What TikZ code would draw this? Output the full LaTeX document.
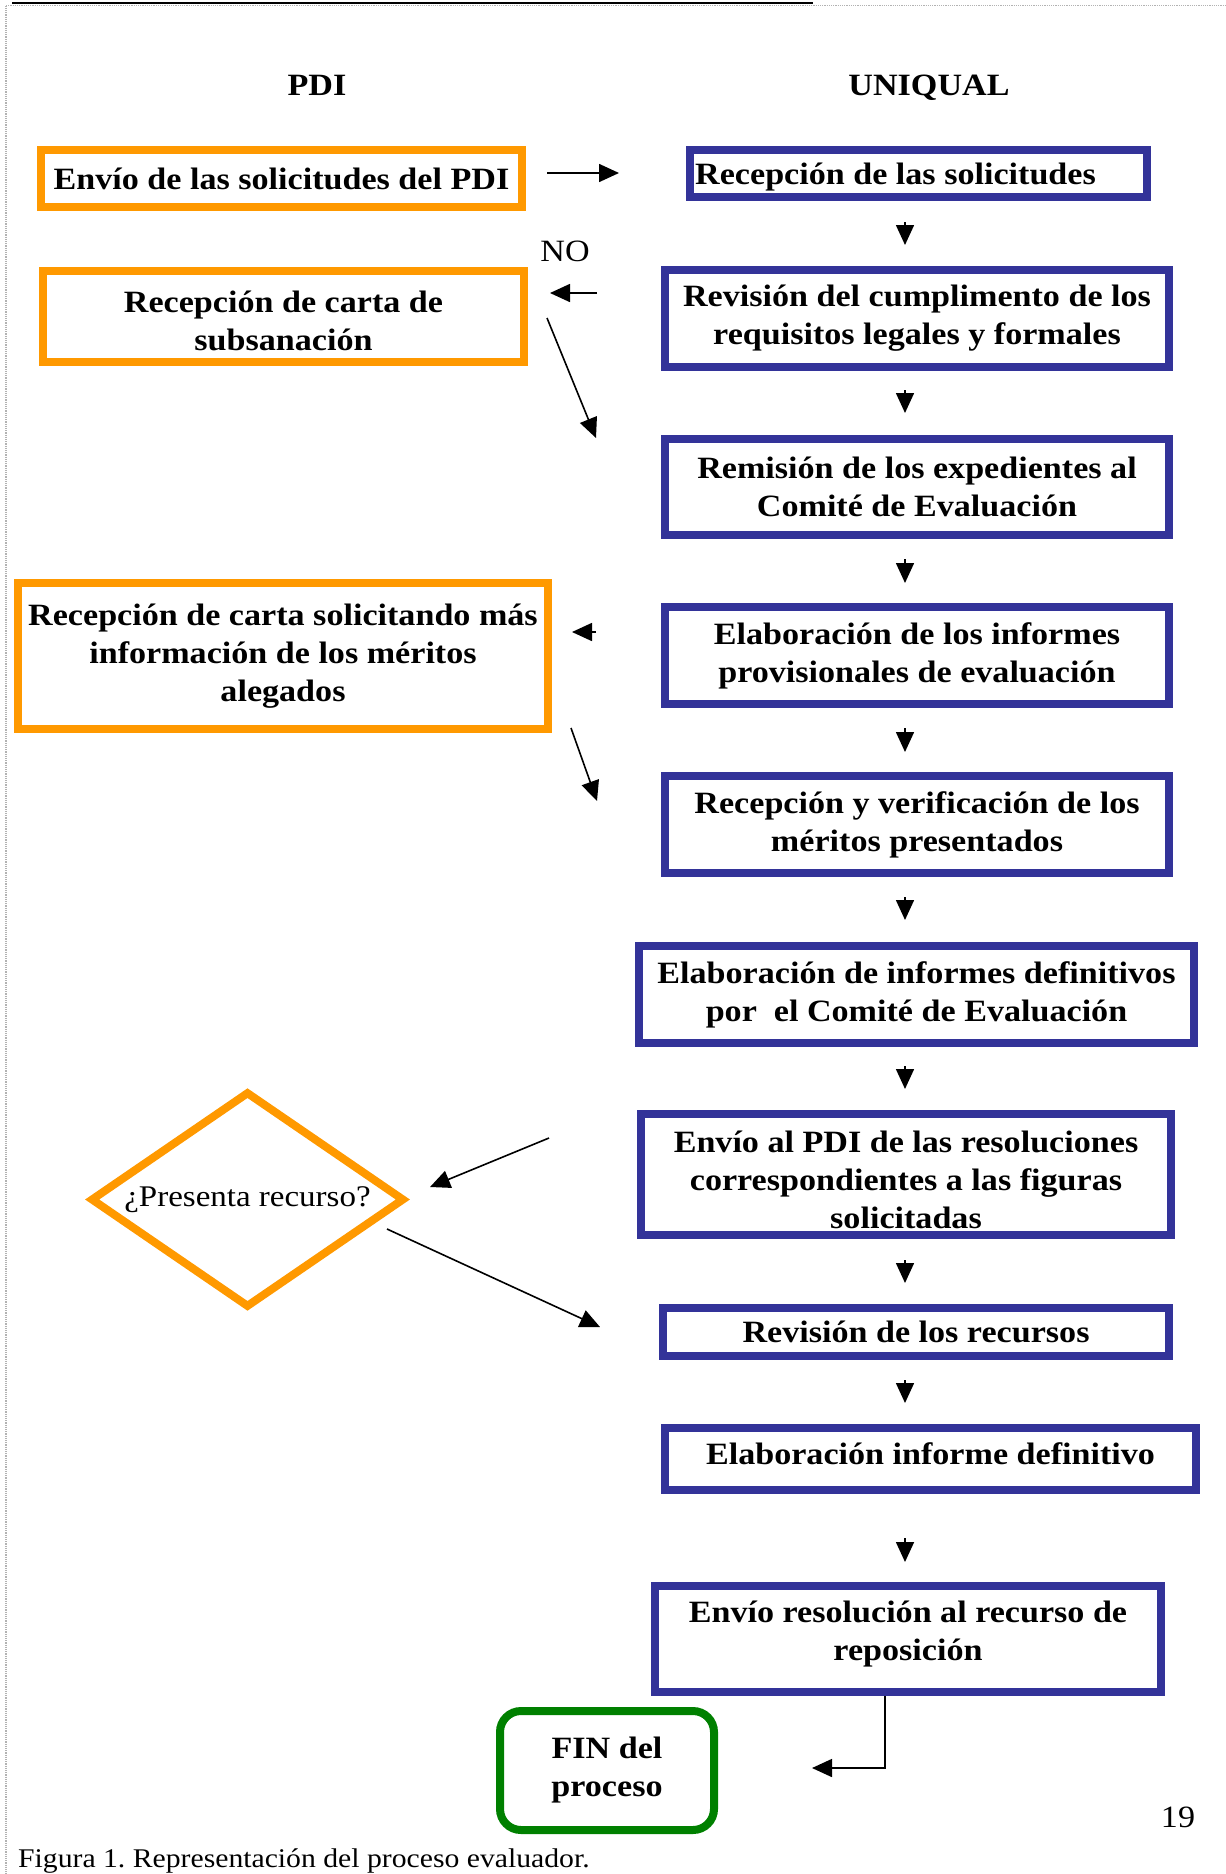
\documentclass[tikz,border=0pt]{standalone}
\usepackage{fontspec}
\setmainfont{Liberation Serif}[FakeStretch=1.1]
\usetikzlibrary{arrows.meta,shapes.geometric}
\definecolor{pdiorange}{RGB}{255,153,0}
\definecolor{uniblue}{RGB}{51,51,153}
\definecolor{fingreen}{RGB}{0,128,0}
\newcommand\bxfont{\fontsize{31pt}{38pt}\selectfont}
\newcommand\capfont{\fontsize{27pt}{32pt}\selectfont}
\frenchspacing
\tikzset{
  bx/.style={draw, line width=8pt, rectangle, inner sep=0pt, align=center, font=\bfseries\bxfont, text=black},
  ub/.style={bx, draw=uniblue},
  ob/.style={bx, draw=pdiorange},
  txt/.style={inner sep=0pt, align=center, font=\bfseries\bxfont},
  arr/.style={-{Triangle[length=20pt,width=18pt]}, line width=1.6pt},
  plain/.style={inner sep=0pt, font=\bxfont},
  hdr/.style={inner sep=0pt, font=\bfseries\bxfont, anchor=base},
}
\begin{document}
\begin{tikzpicture}[x=1pt,y=-1pt]
\useasboundingbox (0,0) rectangle (1226,1874);
% page decorations
\draw[line width=2.5pt] (12,3) -- (813,3);
\draw[gray!60, line width=1.2pt, densely dotted] (6,5.5) -- (1226,5.5);
\draw[gray!60, line width=1.2pt, densely dotted] (6,5.5) -- (6,1874);

% headers
\node[hdr] (hpdi) at (317,95) {PDI};
\node[hdr] (huni) at (929,95) {UNIQUAL};

% PDI column
\node[ob, minimum width=481pt, minimum height=57pt] (b1) at (281.5,178.5) {Envío de las solicitudes del PDI};
\node[ob, minimum width=481pt, minimum height=91pt] (b3) at (283.5,316.5) {};
\node[txt] (b3t) at ([yshift=-4pt]b3.center) {Recepción de carta de\\subsanación};
\node[ob, minimum width=530pt, minimum height=146pt] (b6) at (283,656) {Recepción de carta solicitando más\\información de los méritos\\alegados};
\node[draw=pdiorange, line width=8pt, diamond, aspect=1.46, minimum width=314pt, minimum height=216pt, inner sep=0pt, font=\fontsize{30pt}{36pt}\selectfont] (dia) at (247.5,1199.5) {¿Presenta recurso?};
\node[draw=fingreen, line width=8pt, rectangle, rounded corners=21pt, minimum width=214pt, minimum height=119pt, inner sep=0pt, align=center, font=\bfseries\bxfont] (fin) at (607,1770.5) {FIN del\\proceso};

% UNIQUAL column
\node[ub, minimum width=457pt, minimum height=47pt] (b2) at (918.5,173.5) {};
\node[txt, anchor=west] (b2t) at ([xshift=9pt,yshift=-4pt]b2.west) {Recepción de las solicitudes};
\node[ub, minimum width=504pt, minimum height=97pt] (b4) at (917,318.5) {Revisión del cumplimento de los\\requisitos legales y formales};
\node[ub, minimum width=504pt, minimum height=96pt] (b5) at (917,487) {Remisión de los expedientes al\\Comité de Evaluación};
\node[ub, minimum width=504pt, minimum height=97pt] (b7) at (917,655.5) {Elaboración de los informes\\provisionales de evaluación};
\node[ub, minimum width=504pt, minimum height=97pt] (b8) at (917,824.5) {Recepción y verificación de los\\méritos presentados};
\node[ub, minimum width=555pt, minimum height=97pt] (b9) at (916.5,994.5) {Elaboración de informes definitivos\\por~ el Comité de Evaluación};
\node[ub, minimum width=530pt, minimum height=121pt] (b10) at (906,1174.5) {};
\node[txt] (b10t) at ([yshift=-5pt]b10.center) {Envío al PDI de las resoluciones\\correspondientes a las figuras\\solicitadas};
\node[ub, minimum width=506pt, minimum height=48pt] (b11) at (916,1332) {Revisión de los recursos};
\node[ub, minimum width=531pt, minimum height=62pt] (b12) at (930.5,1459) {};
\node[txt] (b12t) at ([yshift=5pt]b12.center) {Elaboración informe definitivo};
\node[ub, minimum width=506pt, minimum height=106pt] (b13) at (908,1639) {};
\node[txt] (b13t) at ([yshift=5pt]b13.center) {Envío resolución al recurso de\\reposición};

% labels
\node[plain, anchor=base] (no) at (565,261) {NO};
\node[plain, anchor=base] (pg) at (1178,1827) {19};
\node[inner sep=0pt, font=\capfont, anchor=base west] (cap) at (18,1867) {Figura 1. Representación del proceso evaluador.};

% connector end points
\coordinate (r1s) at (547,173);  \coordinate (r1e) at (619,173);
\coordinate (d1s) at (905,222);  \coordinate (d1e) at (905,245);
\coordinate (d2s) at (905,390);  \coordinate (d2e) at (905,413);
\coordinate (d3s) at (905,559);  \coordinate (d3e) at (905,583);
\coordinate (d4s) at (905,728);  \coordinate (d4e) at (905,752);
\coordinate (d5s) at (905,897);  \coordinate (d5e) at (905,920);
\coordinate (d6s) at (905,1066); \coordinate (d6e) at (905,1089);
\coordinate (d7s) at (905,1260); \coordinate (d7e) at (905,1283);
\coordinate (d8s) at (905,1380); \coordinate (d8e) at (905,1403);
\coordinate (d9s) at (905,1538); \coordinate (d9e) at (905,1562);
\coordinate (l1s) at (597,293);  \coordinate (l1e) at (550,293);
\coordinate (g1s) at (547,318);  \coordinate (g1e) at (596,438);
\coordinate (l2s) at (596,632);  \coordinate (l2e) at (572,632);
\coordinate (g2s) at (571,728);  \coordinate (g2e) at (597,801);
\coordinate (p1s) at (549,1138); \coordinate (p1e) at (430,1187);
\coordinate (p2s) at (387,1229); \coordinate (p2e) at (600,1327);
\coordinate (elb) at (885,1768); \coordinate (fint) at (812,1768);

% connectors
\draw[arr] (r1s) -- (r1e);
\foreach \i in {1,...,9} {\draw[arr] (d\i s) -- (d\i e);}
\draw[arr] (l1s) -- (l1e);
\draw[arr] (g1s) -- (g1e);
\draw[arr] (l2s) -- (l2e);
\draw[arr] (g2s) -- (g2e);
\draw[arr] (p1s) -- (p1e);
\draw[arr] (p2s) -- (p2e);
\draw[arr] (b13.south -| elb) -- (elb) -- (fint);
\end{tikzpicture}
\end{document}
